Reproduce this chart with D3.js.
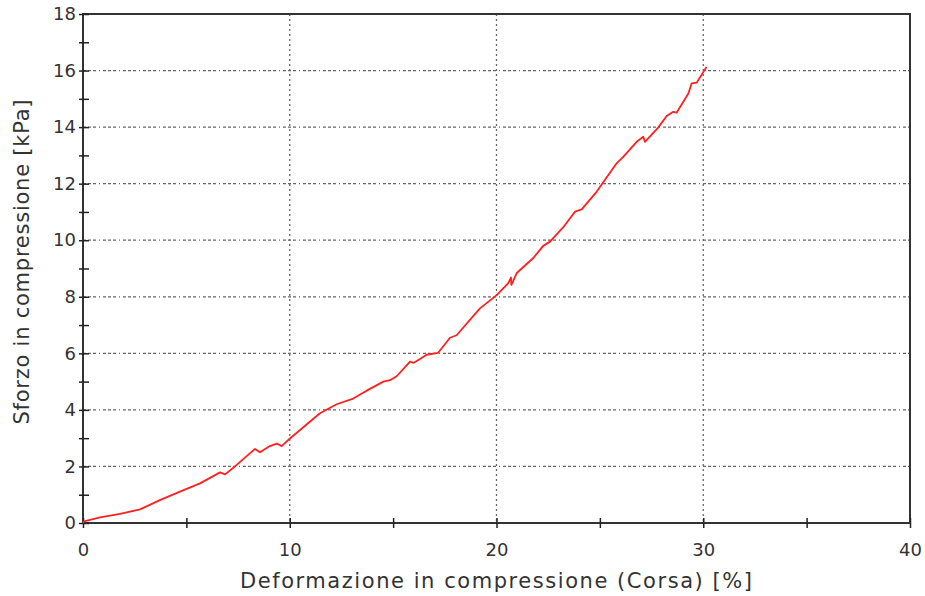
<!DOCTYPE html>
<html><head><meta charset="utf-8">
<script src="https://cdn.jsdelivr.net/npm/d3@7"></script>
<style>body{margin:0;background:#fff}svg{display:block}</style>
</head><body>
<script>
const strain = [0,0.05,0.82,1.79,2.76,3.72,4.69,5.66,6.63,6.87,7.35,8.32,8.56,9.04,9.37,9.61,10.01,11.46,12.27,13.07,13.72,14.53,14.85,15.17,15.82,15.98,16.3,16.62,17.18,17.75,18.07,19.2,20.01,20.57,20.7,20.72,20.98,21.46,21.78,22.26,22.59,23.23,23.8,24.12,24.85,25.81,26.13,26.78,27.1,27.18,27.83,28.23,28.55,28.71,29.28,29.44,29.68,30.16];
const stress = [0,0.06,0.2,0.32,0.48,0.81,1.11,1.4,1.79,1.72,2.0,2.62,2.5,2.72,2.81,2.72,2.99,3.88,4.2,4.4,4.68,5.0,5.05,5.19,5.71,5.66,5.8,5.95,6.02,6.55,6.64,7.59,8.06,8.48,8.68,8.42,8.84,9.16,9.37,9.8,9.95,10.46,11.01,11.09,11.72,12.72,12.95,13.48,13.66,13.48,13.99,14.39,14.54,14.51,15.19,15.55,15.57,16.13];
const xTicks = [0,10,20,30,40];
const yTicks = [0,2,4,6,8,10,12,14,16,18];
const xTitle = "Deformazione in compressione (Corsa) [%]";
const yTitle = "Sforzo in compressione [kPa]";

const W=925,H=596, L=83,R=910,T=14,B=523;
const svg=d3.select("body").append("svg").attr("width",W).attr("height",H);
const x=d3.scaleLinear().domain([0,40]).range([L,R]);
const y=d3.scaleLinear().domain([0,18]).range([B,T]);
const font="DejaVu Sans, Verdana, sans-serif";

// grid
svg.append("g").selectAll("line").data(yTicks.filter(v=>v>0&&v<18)).join("line")
 .attr("x1",L).attr("x2",R).attr("y1",d=>y(d)).attr("y2",d=>y(d))
 .attr("stroke","#666").attr("stroke-width",1.3).attr("stroke-dasharray","3,2,3,2,3,3,1,3");
svg.append("g").selectAll("line").data(xTicks.filter(v=>v>0&&v<40)).join("line")
 .attr("x1",d=>x(d)).attr("x2",d=>x(d)).attr("y1",T).attr("y2",B)
 .attr("stroke","#666").attr("stroke-width",1.3).attr("stroke-dasharray","2,3");

// frame
svg.append("rect").attr("x",L).attr("y",T).attr("width",R-L).attr("height",B-T)
 .attr("fill","none").attr("stroke","#333").attr("stroke-width",2);

// axes
const xAxis=d3.axisBottom(x).tickValues(d3.range(0,41,5)).tickSize(0).tickFormat(d=>xTicks.includes(d)?d:"");
const gx=svg.append("g").attr("transform",`translate(0,${B})`).call(xAxis);
gx.select(".domain").remove();
gx.selectAll(".tick line").attr("y1",-5).attr("y2",5).attr("stroke","#222").attr("stroke-width",1.5);
gx.selectAll(".tick text").attr("y",20).attr("dy","0.71em").attr("font-family",font).attr("font-size",18).attr("fill","#333");

const yAxis=d3.axisLeft(y).tickValues(d3.range(0,19,1)).tickSize(0).tickFormat(d=>yTicks.includes(d)?d:"");
const gy=svg.append("g").attr("transform",`translate(${L},0)`).call(yAxis);
gy.select(".domain").remove();
gy.selectAll(".tick line").attr("x1",-4).attr("x2",6).attr("stroke","#222").attr("stroke-width",1.5);
gy.selectAll(".tick text").attr("x",-7).attr("font-family",font).attr("font-size",18).attr("fill","#333");

// line
svg.append("path").datum(strain.map((s,i)=>[s,stress[i]]))
 .attr("d",d3.line().x(d=>x(d[0])).y(d=>y(d[1])))
 .attr("fill","none").attr("stroke","#ff2020").attr("stroke-width",1.8).attr("stroke-linejoin","round");

// titles
svg.append("text").attr("x",496).attr("y",588).attr("text-anchor","middle")
 .attr("font-family",font).attr("font-size",21).attr("fill","#333")
 .attr("textLength",512).attr("lengthAdjust","spacing").text(xTitle);
svg.append("text").attr("transform",`translate(29,262) rotate(-90)`).attr("text-anchor","middle")
 .attr("font-family",font).attr("font-size",21).attr("fill","#333")
 .attr("textLength",325).attr("lengthAdjust","spacing").text(yTitle);
</script>
</body></html>
